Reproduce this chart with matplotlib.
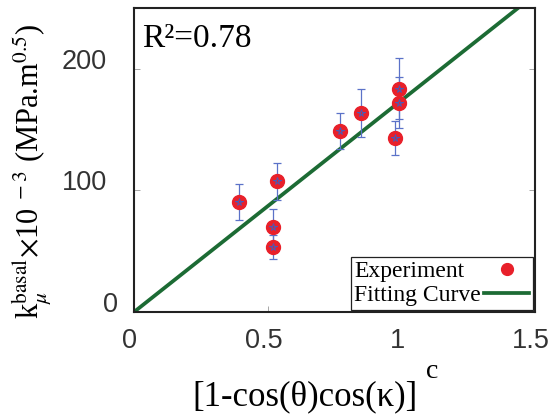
import matplotlib
matplotlib.use("Agg")
import matplotlib.pyplot as plt
from matplotlib.lines import Line2D
from matplotlib.transforms import ScaledTranslation
import numpy as np

plt.rcParams["mathtext.fontset"] = "stix"

# Measured data
x_exp = [0.394, 0.534, 0.519, 0.519, 0.772, 0.848, 0.978, 0.99, 0.99]
y_exp = [90.5, 107.5, 69.5, 53.5, 149.0, 163.5, 143.0, 183.5, 172.0]
y_err = [15.0, 15.0, 15.0, 10.0, 15.0, 20.0, 14.0, 25.0, 21.0]

# Linear fit through origin
fit_slope = 174.0
fit_x = [0.0, 1.5]
r_squared = "0.78"

xticks = [0, 0.5, 1, 1.5]
xtick_labels = ["0", "0.5", "1", "1.5"]
yticks = [0, 100, 200]
ytick_labels = ["0", "100", "200"]

fig = plt.figure(figsize=(5.49, 4.16), dpi=100)
ax = fig.add_axes([0.2441, 0.25, 0.7304, 0.7308])

fx = np.array(fit_x)
ax.plot(fx, fit_slope * fx, color="#1c6b34", lw=2.7, zorder=2)

ax.errorbar(x_exp, y_exp, yerr=y_err, fmt="none", ecolor="#5b72c8",
            elinewidth=0.9, capsize=2.6, capthick=0.9, zorder=3)
ax.plot(x_exp, y_exp, "o", ms=10, color="#e8202a", mec="#e8202a", zorder=4)
ax.plot(x_exp, y_exp, "*", ms=5.5, mfc="none", mec="#4a5ab8", mew=0.7, zorder=5)

ax.set_xlim(0, 1.5)
ax.set_ylim(0, 250)
ax.set_xticks(xticks)
ax.set_xticklabels(xtick_labels, fontfamily="Liberation Sans")
ax.set_yticks(yticks)
ax.set_yticklabels(ytick_labels, fontfamily="Liberation Sans")
ax.tick_params(axis="both", direction="in", length=4, width=0.6, color="#999999",
               labelsize=19.5, labelcolor="#333333")
ax.tick_params(axis="y", right=True, pad=19.5)
ax.tick_params(axis="x", pad=26)
ax.yaxis.get_major_ticks()[0].set_pad(11.5)
for lab in ax.get_yticklabels():
    lab.set_va("baseline")
for lab in ax.get_xticklabels():
    lab.set_va("baseline")
    lab.set_transform(lab.get_transform()
                      + ScaledTranslation(-3 / 72, 0, fig.dpi_scale_trans))
for s in ax.spines.values():
    s.set_linewidth(1.5)
    s.set_color("#222222")

ax.text(0.02, 0.872, "R\u00b2=" + r_squared, transform=ax.transAxes,
        fontfamily="Liberation Serif", fontsize=24, va="baseline", ha="left")

# x label with its exponent set as a separate raised letter
ax.set_xlabel("[1-cos(\u03b8)cos(\u03ba)]", fontfamily="Liberation Serif",
              fontsize=25, va="baseline")
ax.xaxis.set_label_coords(0.4264, -0.306)
ax.text(0.743, -0.217, "c", transform=ax.transAxes, fontfamily="Liberation Serif",
        fontsize=20, ha="center", va="baseline")

ax.set_ylabel(r"k$_{\mu}^{\mathrm{basal}}$$\times$10$^{\ -3}$ (MPa.m$^{0.5}$)",
              fontfamily="Liberation Serif", fontsize=22)
ax.yaxis.set_label_coords(-0.202, 0.464)

handles = [
    Line2D([], [], ls="none", marker="o", ms=8.5, color="#e8202a"),
    Line2D([], [], color="#1c6b34", lw=2.7),
]
leg = ax.legend(handles, ["Experiment", "Fitting Curve"], loc="lower right",
                markerfirst=False, fancybox=False, framealpha=1, edgecolor="#222222",
                prop={"family": "Liberation Serif", "size": 17},
                borderpad=0.15, labelspacing=0.1, handlelength=1.9,
                handletextpad=0.13, borderaxespad=0.1)
leg.get_frame().set_linewidth(0.9)

# Left-align the legend labels while keeping the handles in a right column
fig.canvas.draw()
renderer = fig.canvas.get_renderer()
widths = [t.get_window_extent(renderer).width for t in leg.get_texts()]
column = leg._legend_handle_box.get_children()[0]
column.align = "left"
rows = column.get_children()
for row, w in zip(rows, widths):
    row.sep += (max(widths) - w) * 72.0 / fig.dpi

fig.savefig("out.png", dpi=100)
